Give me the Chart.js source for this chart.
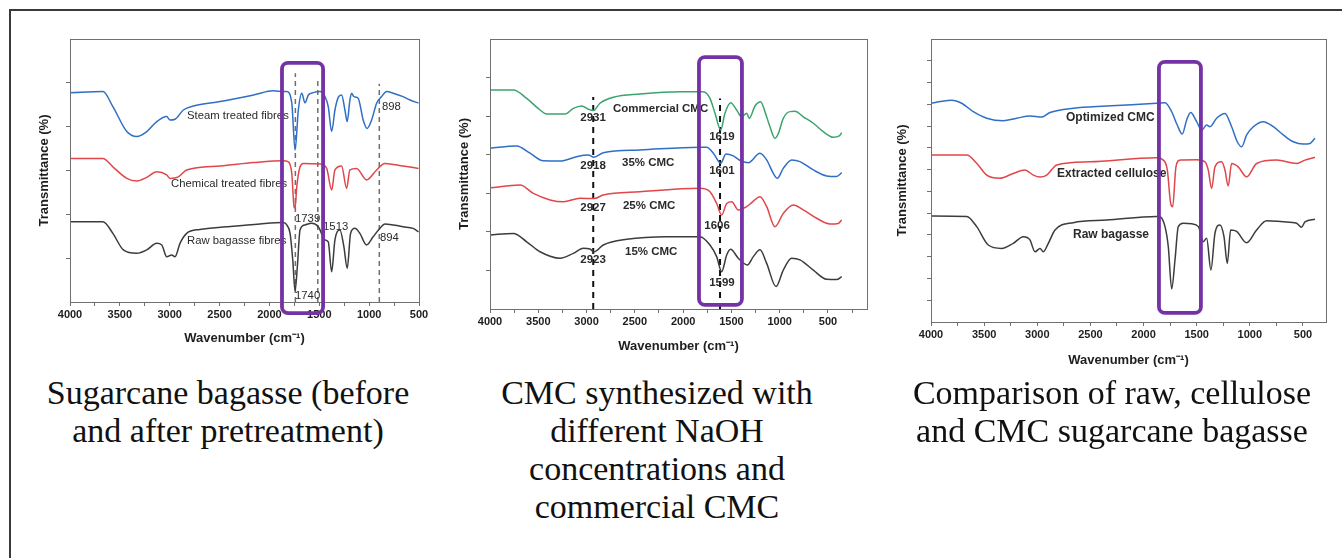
<!DOCTYPE html>
<html>
<head>
<meta charset="utf-8">
<script src="https://cdn.jsdelivr.net/npm/chart.js@4.4.1/dist/chart.umd.min.js"></script>
<style>
  body { margin: 0; background: #fff; width: 1342px; height: 558px; position: relative; overflow: hidden; }
  .frame { position: absolute; left: 9px; top: 9px; right: 0; bottom: 0; border-top: 2px solid #3a3a3a; border-left: 2px solid #3a3a3a; }
  canvas { position: absolute; }
  .cap { position: absolute; font-family: "Liberation Serif", "Times New Roman", serif; font-size: 34px; line-height: 38px; text-align: center; color: #111; }
</style>
</head>
<body>
<div class="frame"></div>
<canvas id="c1" width="420" height="340" style="left:20px;top:20px"></canvas>
<canvas id="c2" width="430" height="340" style="left:450px;top:20px"></canvas>
<canvas id="c3" width="455" height="355" style="left:885px;top:20px"></canvas>
<div class="cap" style="left:8px;top:374px;width:440px">Sugarcane bagasse (before<br>and after pretreatment)</div>
<div class="cap" style="left:437px;top:374px;width:440px">CMC synthesized with<br>different NaOH<br>concentrations and<br>commercial CMC</div>
<div class="cap" style="left:882px;top:374px;width:460px">Comparison of raw, cellulose<br>and CMC sugarcane bagasse</div>
<script>
// --- panel 1: bagasse before / after pretreatment ---
const steamX = [4000,3670,3570,3430,3330,3230,3130,3030,2997,2947,2863,2763,2495,2160,1960,1860,1826,1776,1743,1710,1676,1643,1610,1560,1493,1443,1410,1376,1343,1310,1276,1243,1220,1193,1176,1153,1110,1060,1020,975,925,875,825,758,660,590,505];
const steamY = [79.6,80.0,74.3,64.8,62.9,64.8,68.6,70.5,69.2,69.5,73.0,74.5,76.2,78.7,80.3,80.0,80.0,75.7,57.8,73.0,79.4,75.7,78.7,79.6,80.0,78.1,74.3,64.8,73.0,77.8,78.7,73.0,68.6,76.8,79.4,78.1,77.5,69.2,66.0,69.2,75.6,78.1,80.0,79.4,78.1,76.8,75.6];
const chemX = [4000,3670,3570,3430,3330,3230,3130,3030,2997,2913,2830,2495,2160,1860,1810,1776,1753,1743,1726,1693,1660,1493,1426,1376,1343,1276,1226,1193,1126,1026,925,842,660,505];
const chemY = [54.6,54.6,51.4,47.0,46.0,47.4,49.5,48.3,47.0,47.6,50.2,51.7,53.0,53.7,53.3,48.9,36.2,35.7,43.8,51.4,52.7,52.5,50.8,42.6,50.2,51.7,43.2,50.2,50.8,46.4,50.2,52.7,51.7,50.8];
const rawX = [4000,3670,3570,3465,3330,3230,3130,3080,3030,2980,2947,2897,2830,2697,2430,2095,1860,1826,1793,1766,1743,1720,1693,1643,1576,1510,1443,1410,1376,1343,1293,1253,1220,1186,1143,1093,1026,960,892,842,660,559,505];
const rawY = [30.5,30.5,26.1,19.8,18.5,19.8,22.3,21.7,17.2,17.9,17.2,22.3,26.1,27.6,28.6,29.7,30.2,29.3,26.1,16.0,4.2,13.4,27.4,29.3,29.9,28.6,23.6,22.9,11.5,23.6,27.4,21.0,12.8,26.1,28.0,26.1,21.7,24.8,28.0,29.7,28.6,28.0,26.7];
const p1Marks = [1740, 1515, 898];
const p1MarkTop = [87, 84, 83];

// --- panel 2: CMC with different NaOH ---
const comX = [4000,3758,3620,3482,3413,3223,3137,3051,2982,2930,2861,2723,2447,2033,1791,1722,1670,1611,1567,1508,1446,1394,1342,1315,1256,1197,1153,1101,1049,1015,963,894,842,756,652,549,445,383,358];
const comY = [81.1,81.1,78.0,73.7,72.2,72.2,74.3,75.2,74.0,73.5,76.2,78.4,79.6,80.5,80.5,78.0,72.5,66.3,72.5,76.4,73.7,71.2,72.5,70.6,75.2,76.8,73.1,67.5,63.2,64.9,70.6,73.1,73.2,71.2,68.8,65.7,63.6,64.1,65.3];
const c35X = [4000,3723,3585,3448,3275,3103,2982,2923,2827,2447,1825,1756,1687,1611,1556,1481,1419,1325,1204,1135,1066,1025,963,876,790,652,514,410,358];
const c35Y = [59.5,60.4,57.7,54.9,54.8,56.4,57.0,56.2,57.9,58.9,59.9,59.9,57.7,54.0,57.4,56.7,55.2,54.2,57.7,55.2,50.2,48.4,52.1,55.2,54.6,51.5,49.3,49.1,50.5];
const c25X = [4000,3689,3551,3378,3240,3068,2923,2827,2447,1825,1722,1653,1601,1549,1497,1429,1342,1290,1204,1135,1049,963,859,756,617,479,393,358];
const c25Y = [44.9,45.9,42.8,40.4,39.7,41.0,40.9,42.2,43.4,44.7,43.4,39.1,34.8,39.1,39.7,36.7,37.9,39.4,41.6,37.9,30.5,35.4,38.5,36.7,33.6,31.5,31.7,33.0];
const c15X = [4000,3758,3620,3482,3275,3137,3034,2965,2923,2827,2585,2171,1825,1722,1653,1601,1549,1508,1429,1335,1273,1204,1135,1038,963,876,790,652,514,410,358];
const c15Y = [27.4,28.0,24.9,21.2,18.8,20.6,22.5,22.2,21.2,23.7,25.8,26.8,26.8,23.7,19.4,13.8,20.0,22.1,18.8,16.3,19.4,21.9,16.9,8.3,14.4,18.8,18.2,14.4,11.0,10.9,12.0];
const p2Marks = [2931, 1618];
const p2MarkTop = [78.5, 78];

// --- panel 3: raw vs cellulose vs CMC ---
const optX = [4000,3915,3805,3711,3602,3476,3320,3194,3069,2959,2880,2661,2347,1876,1798,1735,1683,1636,1594,1557,1500,1453,1406,1375,1312,1234,1171,1118,1077,1030,967,873,779,685,591,497,434,387];
const optY = [77.3,77.9,78.4,77.3,74.3,72.0,71.1,72.0,72.8,72.4,74.0,75.5,76.3,77.3,77.5,74.3,69.6,66.4,71.4,74.0,70.8,67.8,69.6,69.0,72.0,73.7,69.0,63.7,61.9,66.1,69.0,70.8,69.0,66.1,63.7,62.9,63.1,64.9];
const celX = [4000,3664,3570,3476,3351,3226,3116,3037,2974,2911,2817,2504,1876,1814,1776,1745,1726,1695,1657,1500,1422,1391,1359,1328,1265,1234,1203,1171,1109,1030,936,748,560,481,387];
const celY = [59.0,59.0,56.1,51.9,50.8,52.5,53.7,51.9,51.2,51.9,55.5,56.6,58.0,57.2,53.7,41.9,40.7,54.8,57.2,57.3,56.6,53.7,47.2,54.8,56.6,53.7,48.1,56.0,54.8,51.3,56.0,57.2,56.0,57.2,58.2];
const bagX = [4000,3664,3570,3461,3335,3226,3131,3069,3021,2974,2943,2896,2833,2661,2347,1876,1845,1798,1767,1735,1704,1673,1626,1547,1484,1437,1406,1366,1328,1281,1243,1212,1180,1124,1030,936,842,685,560,513,481,387];
const bagY = [37.5,37.3,33.7,27.2,26.0,27.8,30.1,29.0,24.8,26.0,24.8,27.8,32.5,35.1,36.0,37.3,37.2,33.7,26.6,11.7,21.9,33.7,34.9,34.7,33.7,28.4,29.6,18.4,31.3,34.3,30.2,20.7,32.5,32.0,28.0,32.5,35.8,35.4,34.9,33.5,35.4,36.3];

// ticks
const p1XTicks = [4000,3750,3500,3250,3000,2750,2500,2250,2000,1750,1500,1250,1000,750,500];
const p2XTicks = [4000,3750,3500,3250,3000,2750,2500,2250,2000,1750,1500,1250,1000,750,500,250];
const p3XTicks = [4000,3750,3500,3250,3000,2750,2500,2250,2000,1750,1500,1250,1000,750,500];
const p1YTicks = [16.67,33.33,50,66.67,83.33];
const p2YTicks = [14.29,28.57,42.86,57.14,71.43,85.71];
const p3YTicks = [7.69,15.38,23.08,30.77,38.46,46.15,53.85,61.54,69.23,76.92,84.62,92.31];

const BLUE = '#2f6fc6', RED = '#e0464a', DARK = '#3c3c3c', GREEN = '#3ba46c';
const SANS = '"Liberation Sans", Arial, sans-serif';

// box corners and labels (wavenumber / value space)
const p1Box = [1874, 1462, 90.9, -4.2];
const p2Box = [1836, 1391, 93.3, 1.5];
const p3Box = [1855, 1460, 91.9, 3.2];
const p1Notes = [
  {text: 'Steam treated fibres', x: 2826, y: 70.7},
  {text: 'Chemical treated fibres', x: 2987, y: 44.9},
  {text: 'Raw bagasse fibres', x: 2826, y: 23.2},
  {text: '1739', x: 1743, y: 31.6},
  {text: '1513', x: 1462, y: 28.5},
  {text: '898', x: 871, y: 74.1},
  {text: '894', x: 891, y: 24.3},
  {text: '1740', x: 1743, y: 2.3}
];
const p2Notes = [
  {text: '2931', x: 2933, y: 70.7, align: 'center'},
  {text: 'Commercial CMC', x: 2726, y: 74.1},
  {text: '1619', x: 1598, y: 63.7, align: 'center'},
  {text: '2918', x: 2933, y: 53.0, align: 'center'},
  {text: '35% CMC', x: 2633, y: 54.1},
  {text: '1601', x: 1598, y: 51.1, align: 'center'},
  {text: '2927', x: 2933, y: 37.4, align: 'center'},
  {text: '25% CMC', x: 2623, y: 38.1},
  {text: '1606', x: 1649, y: 30.7, align: 'center'},
  {text: '2923', x: 2933, y: 18.1, align: 'center'},
  {text: '15% CMC', x: 2602, y: 21.1},
  {text: '1599', x: 1598, y: 9.6, align: 'center'}
];
const p3Notes = [
  {text: 'Optimized CMC', x: 2730, y: 72.1},
  {text: 'Extracted cellulose', x: 2814, y: 52.3},
  {text: 'Raw bagasse', x: 2664, y: 30.7}
];

const extras = {
  id: 'extras',
  afterDraw(chart, args, o) {
    const {ctx, chartArea: a} = chart;
    const x = chart.scales.x, y = chart.scales.y;
    ctx.save();
    ctx.strokeStyle = '#707070';
    ctx.lineWidth = 1;
    ctx.strokeRect(a.left + 0.5, a.top + 0.5, a.right - a.left, a.bottom - a.top);
    ctx.font = o.font;
    ctx.fillStyle = '#2a2a2a';
    ctx.textBaseline = 'middle';
    o.notes.forEach(n => {
      ctx.textAlign = n.align || 'left';
      ctx.fillText(n.text, x.getPixelForValue(n.x), y.getPixelForValue(n.y));
    });
    const b = o.box;
    const l = x.getPixelForValue(b[0]), r = x.getPixelForValue(b[1]);
    const t = y.getPixelForValue(b[2]), bt = y.getPixelForValue(b[3]);
    ctx.strokeStyle = '#7432a4';
    ctx.lineWidth = 3.8;
    ctx.beginPath();
    ctx.roundRect(l, t, r - l, bt - t, 6);
    ctx.stroke();
    ctx.restore();
  }
};

function panel(id, series, marks, tops, o) {
  const datasets = series.map(s => ({
    data: s[0].map((w, i) => ({x: w, y: s[1][i]})),
    borderColor: s[2], borderWidth: 1.5, pointRadius: 0, showLine: true,
    cubicInterpolationMode: 'monotone'
  }));
  marks.forEach((m, i) => datasets.push({
    data: [{x: m, y: 0}, {x: m, y: tops[i]}],
    borderColor: o.markColor, borderWidth: o.markWidth, borderDash: o.markDash,
    pointRadius: 0, showLine: true
  }));
  new Chart(document.getElementById(id), {
    type: 'scatter',
    data: {datasets},
    plugins: [extras],
    options: {
      responsive: false, animation: false, events: [],
      layout: {padding: {top: 19, right: o.padR, left: 0, bottom: 0}},
      plugins: {
        legend: {display: false}, tooltip: {enabled: false},
        extras: {notes: o.notes, box: o.box, font: o.noteFont}
      },
      scales: {
        x: {
          type: 'linear', reverse: true, min: o.xMin, max: 4000,
          afterBuildTicks: s => { s.ticks = o.xTicks.map(v => ({value: v})); },
          afterFit: s => { s.height = o.xH; },
          ticks: {autoSkip: false, maxRotation: 0, padding: 2, color: '#1e1e1e',
            font: {family: SANS, size: 11, weight: 'bold'},
            callback: v => v % 500 === 0 ? String(v) : ''},
          grid: {drawOnChartArea: false, tickLength: 4, color: '#707070'},
          border: {color: '#707070'},
          title: {display: true, text: 'Wavenumber (cm\u207B\u00B9)', color: '#1e1e1e',
            padding: {top: 0, bottom: o.xTitlePad}, font: {family: SANS, size: 13, weight: 'bold'}}
        },
        y: {
          min: 0, max: 100,
          afterBuildTicks: s => { s.ticks = o.yTicks.map(v => ({value: v})); },
          afterFit: s => { s.width = o.yW; },
          ticks: {callback: () => ''},
          grid: {drawOnChartArea: false, tickLength: 4, color: '#707070'},
          border: {color: '#707070'},
          title: {display: true, text: 'Transmittance (%)', color: '#1e1e1e',
            padding: {top: o.yTitlePad, bottom: 0}, font: {family: SANS, size: 13, weight: 'bold'}}
        }
      }
    }
  });
}

panel('c1', [[steamX, steamY, BLUE], [chemX, chemY, RED], [rawX, rawY, DARK]], p1Marks, p1MarkTop, {
  xMin: 500, xTicks: p1XTicks, yTicks: p1YTicks, padR: 21, xH: 58, yW: 50,
  xTitlePad: 14, yTitlePad: 17, notes: p1Notes, box: p1Box,
  noteFont: '11.3px ' + SANS, markColor: '#6e6e6e', markWidth: 1.5, markDash: [5, 4]
});
panel('c2', [[comX, comY, GREEN], [c35X, c35Y, BLUE], [c25X, c25Y, RED], [c15X, c15Y, DARK]], p2Marks, p2MarkTop, {
  xMin: 96, xTicks: p2XTicks, yTicks: p2YTicks, padR: 13, xH: 51, yW: 40,
  xTitlePad: 6, yTitlePad: 7, notes: p2Notes, box: p2Box,
  noteFont: 'bold 11.5px ' + SANS, markColor: '#111', markWidth: 2, markDash: [6, 5]
});
panel('c3', [[optX, optY, BLUE], [celX, celY, RED], [bagX, bagY, DARK]], [], [], {
  xMin: 283, xTicks: p3XTicks, yTicks: p3YTicks, padR: 14, xH: 53, yW: 46,
  xTitlePad: 7, yTitlePad: 10, notes: p3Notes, box: p3Box,
  noteFont: 'bold 12px ' + SANS, markColor: '#111', markWidth: 2, markDash: [6, 5]
});
</script>
</body>
</html>
